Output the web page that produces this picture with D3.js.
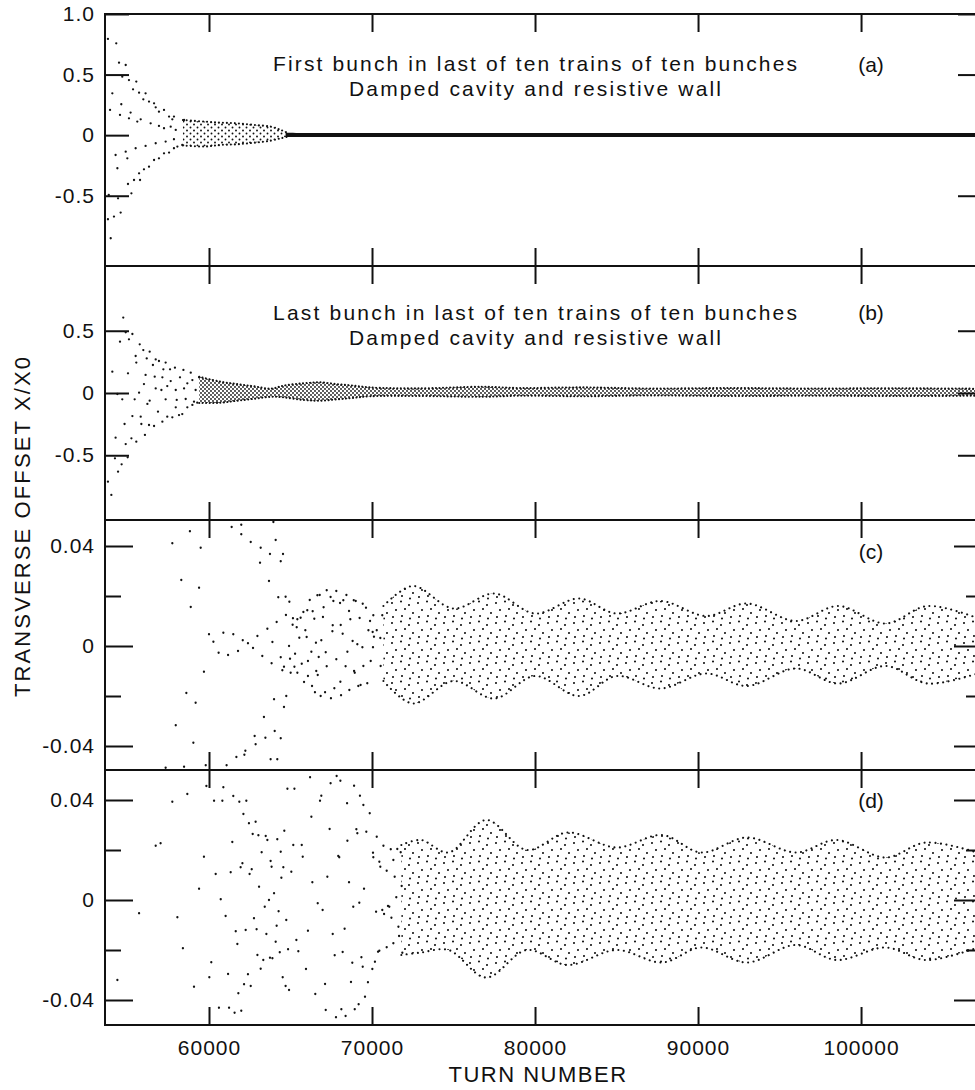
<!DOCTYPE html>
<html>
<head>
<meta charset="utf-8">
<script src="https://cdn.jsdelivr.net/npm/d3@7"></script>
<style>
  body { margin: 0; background: #fff; }
  text { font-family: "Liberation Sans", Arial, Helvetica, sans-serif; fill: #111; }
</style>
</head>
<body>
<div id="chart"></div>
<script>
// tick values
const turnTicks = [60000, 70000, 80000, 90000, 100000];
const ticksA = [1.0, 0.5, 0, -0.5];
const ticksB = [0.5, 0, -0.5];
const ticksCD = [0.04, 0, -0.04];
const minorCD = [0.02, -0.02];

// panel (a): separate dots [turn, x/x0]
const ptsA = [[53800,0.794],[54310,0.758],[54480,0.598],[54890,0.579],[54680,0.483],[55090,0.455],[55540,0.442],[55340,0.378],[55710,0.351],[56110,0.345],[55970,0.296],[56320,0.277],[56630,0.263],[56730,0.230],[56930,0.194],[57240,0.208],[57550,0.153],[57850,0.153],[57750,0.131],[58470,0.125],
  [54070,0.345],[53930,0.208],[54620,0.255],[54540,0.167],[55190,0.186],[55090,0.139],[55810,0.131],[55600,0.112],[56420,0.098],[56930,0.076],[57240,0.057],[57650,0.070],[57960,0.043],
  [54270,-0.164],[54890,-0.136],[54380,-0.273],[54990,-0.191],[55500,-0.108],[56110,-0.089],[56730,-0.067],[57340,-0.053],[57850,-0.034],
  [55030,-0.403],[55400,-0.370],[55710,-0.315],[55770,-0.370],[56010,-0.282],[56320,-0.260],[56630,-0.205],[56930,-0.191],[57240,-0.150],[57550,-0.144],[57850,-0.108],[58060,-0.094],[58360,-0.081],
  [55240,-0.480],[54420,-0.521],[53850,-0.494],[54170,-0.672],[54580,-0.639],[53800,-0.694],[53970,-0.851]];
// panel (a): dense dot region [turn, upper, lower]
const lensA = [[58400,0.125,-0.085],[59700,0.112,-0.094],[60700,0.103,-0.081],[61700,0.098,-0.075],[62800,0.084,-0.062],[63800,0.070,-0.045],[64400,0.043,-0.026],[64900,0.014,-0.010]];
const lineA = [[64700,0.020,-0.016],[66000,0.018,-0.016],[70000,0.017,-0.016],[80000,0.018,-0.016],[90000,0.017,-0.016],[100000,0.018,-0.016],[107600,0.017,-0.016]];

// panel (b)
const ptsB = [[54740,0.606],[54890,0.487],[54540,0.412],[55300,0.474],[55090,0.431],[55750,0.391],[55970,0.345],[56360,0.332],[55500,0.297],[56180,0.278],[55540,0.244],[56730,0.270],[56930,0.257],[57340,0.244],[56560,0.225],[57200,0.190],[57610,0.190],[57910,0.203],[58430,0.185],[58880,0.163],[59390,0.126],
  [54070,0.171],[55030,0.158],[56110,0.145],[56670,0.131],[57140,0.126],[58220,0.126],[57650,0.096],[58670,0.078],[58980,0.104],[56010,0.072],[56730,0.037],[57080,0.024],[57440,0.056],[57960,0.024],[58470,0.037],[59180,0.024],
  [54380,-0.008],[54680,-0.051],[55440,-0.051],[55710,0.003],[56360,-0.062],[57340,-0.051],[58020,-0.056],[58570,-0.048],[59080,-0.070],
  [54820,-0.249],[55300,-0.185],[55810,-0.190],[56220,-0.088],[55850,-0.249],[56320,-0.257],[56630,-0.265],[56870,-0.150],[57140,-0.230],[57440,-0.190],[57750,-0.195],[57960,-0.115],[58160,-0.177],[58360,-0.169],[58670,-0.115],[58980,-0.096],[59280,-0.078],
  [54270,-0.359],[54890,-0.410],[55240,-0.364],[55540,-0.391],[56070,-0.337],
  [54230,-0.525],[54640,-0.573],[54420,-0.632],[55010,-0.517],[53800,-0.712],[54010,-0.819]];
const bandB = [[59400,0.130,-0.080],[60700,0.091,-0.078],[61700,0.072,-0.062],[62800,0.053,-0.046],[63800,0.035,-0.030],[64600,0.060,-0.035],[65800,0.078,-0.056],[66800,0.086,-0.062],[67900,0.070,-0.050],[68800,0.060,-0.040],[69900,0.045,-0.026],[72800,0.037,-0.024],[76800,0.050,-0.030],[79000,0.040,-0.022],[83000,0.045,-0.026],[87000,0.036,-0.020],[92000,0.040,-0.024],[97000,0.036,-0.022],[102000,0.038,-0.024],[107600,0.034,-0.022]];

// panel (c)
const ptsC = [[57750,0.0411],[58830,0.0459],[59490,0.0393],[58300,0.0264],[59390,0.0233],[58880,0.0156],[59690,-0.0103],[58610,-0.0188],[59180,-0.0227],[57960,-0.0317],[59040,-0.0387],[57340,-0.0487],[58470,-0.0483],[59800,-0.0477],[61080,-0.0477],
  [61390,0.0476],[61980,0.0485],[61980,0.0447],[62560,0.0416],[63170,0.0393],[63740,0.0368],[63130,0.0333],[64090,0.0424],[64540,0.0368],[64400,0.0339],[63680,0.0260],[63950,0.0496],
  [64250,0.0195],[64700,0.0197],[64930,0.0177],[64720,0.0124],[64150,0.0096],[63580,0.0069],[62970,0.0040],[63890,0.0016],[64910,0.0],[63270,-0.0040],[63840,-0.0069],[64600,-0.0083],[64500,-0.0097],[65010,-0.0107],[65240,-0.0083],[65420,-0.0107],[64970,-0.0051],[65280,-0.0031],[65690,-0.0071],[65830,-0.0144],[66070,-0.0120],[66320,-0.0160],[66500,-0.0185],[66850,-0.0200],[67120,-0.0185],[67480,-0.0209],[67690,-0.0169],[68100,-0.0197],[68610,-0.0176],[69160,-0.0160],[69710,-0.0149],[69300,-0.0156],[68060,-0.0143],
  [60000,0.0047],[60270,0.0017],[60590,-0.0027],[60880,0.0053],[61170,-0.0036],[61490,0.0047],[61780,-0.0020],[62070,0.0023],[62390,0.0011],[62700,-0.0008],
  [64740,-0.0200],[64600,-0.0244],[63990,-0.0213],[63370,-0.0284],[64030,-0.0340],[63460,-0.0367],[64400,-0.0369],[62800,-0.0360],[62860,-0.0393],[62230,-0.0419],[62170,-0.0435],[61680,-0.0444],[63780,-0.0453],[64190,-0.0453],
  [65150,0.0111],[65130,0.0085],[65420,0.0107],[65620,0.0113],[65790,0.0136],[66030,0.0143],[66360,0.0139],[66180,0.0184],[66650,0.0203],[66790,0.0204],[67220,0.0223],[67810,0.0220],[67460,0.0196],[67630,0.0180],[68040,0.0172],[68240,0.0183],[68430,0.0204],[68880,0.0183],[69000,0.0180],[69430,0.0169],[69630,0.0153],[68590,0.0140],[68670,0.0107],[69240,0.0112],[69880,0.0100],[70080,0.0123],[70630,0.0123],
  [65380,0.0075],[65540,0.0033],[65910,0.0063],[65990,0.0036],[66460,0.0109],[66990,0.0116],[67030,0.0155],[67570,0.0059],[67590,0.0083],[68080,0.0084],[68200,0.0049],[66560,0.0013],[66890,0.0023],[67160,-0.0025],[66280,-0.0023],[66730,-0.0044],[66580,-0.0100],[66670,-0.0116],[67220,-0.0081],[67810,-0.0053],[68380,-0.0081],[68490,-0.0023],[68810,0.0020],[69100,0.0007],[69410,-0.0005],[68900,-0.0100],[68940,-0.0107],[69470,-0.0080],[69780,0.0063],[70040,0.0056],[70120,0.0037],[70290,0.0063],[70510,0.0032],[69920,-0.0060],[70060,-0.0005],[70530,-0.0080],[66070,-0.0060],[64400,-0.0045]];
const bandC = [[70700,0.016,-0.014],[72500,0.024,-0.023],[75000,0.015,-0.014],[77500,0.021,-0.021],[80000,0.013,-0.012],[82700,0.019,-0.020],[85000,0.013,-0.012],[87700,0.018,-0.017],[90500,0.012,-0.011],[93000,0.017,-0.016],[96000,0.010,-0.009],[98600,0.016,-0.015],[101500,0.009,-0.008],[104100,0.016,-0.015],[107600,0.010,-0.010]];

// panel (d)
const ptsD = [[54380,-0.0320],[55710,-0.0053],[56730,0.0217],[57030,0.0227],[57750,0.0393],[58060,-0.0069],[58400,-0.0193],[58670,0.0424],[59080,-0.0347],[59390,0.0045],[59690,0.0173],[59840,0.0456],[60020,-0.0309],[60140,-0.0249],[60310,0.0397],[60410,0.0104],[60610,-0.0431],[60720,0.0003],[60820,0.0397],[60880,0.0451],[61020,-0.0064],[61170,-0.0296],[61230,-0.0431],[61330,0.0111],[61430,0.0232],[61490,0.0416],[61570,-0.0451],[61640,-0.0125],[61740,-0.0176],[61800,-0.0373],[61860,0.0393],[61940,0.0131],[61980,-0.0443],[62050,0.0147],[62110,0.0344],[62150,-0.0337],[62250,-0.0120],[62290,0.0397],[62390,-0.0297],[62450,0.0307],[62490,0.0104],[62560,-0.0344],[62620,0.0123],[62680,0.0264],[62760,-0.0073],[62860,0.0313],[62920,-0.0117],[62970,-0.0220],[63030,0.0259],[63070,0.0053],[63170,-0.0275],[63230,0.0191],[63330,-0.0240],[63420,-0.0027],[63480,0.0256],[63520,-0.0136],[63580,0.0240],[63680,0.0000],[63740,-0.0231],[63780,0.0156],[63840,0.0133],[63890,-0.0233],[63990,0.0027],[64090,-0.0167],[64150,-0.0103],[64190,0.0243],[64270,-0.0045],[64340,-0.0209],[64400,0.0193],[64440,0.0089],[64520,-0.0309],[64560,0.0131],[64620,0.0277],[64700,-0.0344],[64740,-0.0080],[64810,0.0445],[64850,-0.0197],[64910,-0.0360],[65050,0.0113],[65170,0.0220],[65240,0.0445],[65360,-0.0160],[65480,-0.0205],[65690,0.0220],[65750,0.0173],[65950,-0.0276],[66070,-0.0123],[66200,0.0491],[66280,0.0333],[66340,0.0071],[66520,-0.0376],[66670,-0.0013],[66810,0.0397],[66890,0.0417],[66970,-0.0040],[67120,-0.0336],[67160,-0.0440],[67260,0.0093],[67400,0.0284],[67460,0.0467],[67590,-0.0136],[67710,-0.0221],[67790,-0.0469],[67830,0.0496],[67930,0.0176],[67990,0.0171],[68060,0.0477],[68120,-0.0437],[68200,-0.0208],[68320,-0.0115],[68380,-0.0464],[68470,0.0387],[68490,0.0237],[68590,0.0071],[68710,-0.0328],[68790,-0.0251],[68850,-0.0027],[68900,0.0457],[68940,-0.0437],[69040,0.0283],[69100,0.0267],[69180,-0.0417],[69220,-0.0011],[69260,0.0417],[69350,-0.0229],[69430,-0.0267],[69470,0.0380],[69510,0.0045],[69570,-0.0387],[69650,0.0273],[69750,-0.0329],[69860,0.0347],[70020,-0.0276],[70060,0.0189],[70080,0.0171],[70180,-0.0247],[70290,0.0253],[70250,-0.0047],[70370,-0.0207],[70450,0.0153],[70450,-0.0203],[70510,0.0133],[70630,-0.0040],[70700,0.0217],[70740,-0.0056],[70900,0.0117],[70900,-0.0189],[70980,-0.0024],[71060,-0.0027],[71150,0.0203],[71190,-0.0071],[71310,0.0160],[71310,-0.0173],[71390,0.0093],[71490,0.0011],[71550,0.0204],[71620,-0.0107],[71660,-0.0144],[71760,0.0191],[71820,0.0056],[71860,-0.0211]];
const bandD = [[71800,0.022,-0.022],[73000,0.024,-0.021],[74700,0.019,-0.020],[77000,0.032,-0.031],[79500,0.020,-0.020],[82000,0.027,-0.026],[85000,0.021,-0.020],[87800,0.026,-0.025],[90200,0.019,-0.019],[93000,0.025,-0.025],[96000,0.019,-0.018],[98500,0.024,-0.024],[101500,0.017,-0.019],[104000,0.023,-0.024],[107600,0.018,-0.018]];

const noteTop = ["First bunch in last of ten trains of ten bunches", "Last bunch in last of ten trains of ten bunches"];
const noteSub = "Damped cavity and resistive wall";
const panelTags = ["(a)", "(b)", "(c)", "(d)"];

var width = 975, height = 1090;
var left = 105, right = 982;
var ink = "#111";

var svg = d3.select("#chart").append("svg")
  .attr("width", width)
  .attr("height", height);

var defs = svg.append("defs");
// dot textures for the dense parts of the traces
function dotPattern(id, w, h, dots, r) {
  var p = defs.append("pattern").attr("id", id)
    .attr("patternUnits", "userSpaceOnUse")
    .attr("width", w).attr("height", h);
  dots.forEach(function(d) {
    p.append("circle").attr("cx", d[0]).attr("cy", d[1]).attr("r", r).attr("fill", ink);
  });
}
dotPattern("texA", 7, 6, [[1.5,1.5],[5,4.5]], 0.95);
dotPattern("texB", 4, 4, [[1,1],[3,3]], 0.9);
dotPattern("texCD", 26, 20, [[2,3],[11,1.5],[19,5],[6,10],[15,9],[23,13],[3,17],[12,16],[20,18.5]], 1.05);

var x = d3.scaleLinear().domain([53620, 107420]).range([left, right]);

var fmt1 = function(d) { return d === 0 ? "0" : (d < 0 ? "-" : "") + Math.abs(d).toFixed(1); };
var fmt2 = function(d) { return d === 0 ? "0" : (d < 0 ? "-" : "") + Math.abs(d).toFixed(2); };

var panels = [
  { top: 14,  bottom: 266,  domain: [-1.08, 1.0],   ticks: ticksA,  minor: [], len: 24, fmt: fmt1, pts: ptsA,
    bands: [{ d: lensA, fill: "url(#texA)", gap: 4 }, { d: lineA, fill: ink, gap: 0 }] },
  { top: 266, bottom: 520,  domain: [-1.02, 1.02],  ticks: ticksB,  minor: [], len: 24, fmt: fmt1, pts: ptsB,
    bands: [{ d: bandB, fill: "url(#texB)", gap: 3.5 }] },
  { top: 520, bottom: 770,  domain: [-0.0496, 0.0504], ticks: ticksCD, minor: minorCD, len: 28, fmt: fmt2, pts: ptsC,
    bands: [{ d: bandC, fill: "url(#texCD)", gap: 5.5 }] },
  { top: 770, bottom: 1025, domain: [-0.050, 0.052],   ticks: ticksCD, minor: minorCD, len: 28, fmt: fmt2, pts: ptsD,
    bands: [{ d: bandD, fill: "url(#texCD)", gap: 5.5 }] }
];

function styleAxis(g) {
  g.attr("font-size", 21).attr("font-family", null);
  g.select(".domain").remove();
  g.selectAll("line").attr("stroke", ink).attr("stroke-width", 2);
  g.selectAll("text").attr("fill", ink).style("letter-spacing", "1px");
}

panels.forEach(function(p, i) {
  var y = d3.scaleLinear().domain(p.domain).range([p.bottom, p.top]);

  svg.append("clipPath").attr("id", "clip" + i)
    .append("rect").attr("x", left).attr("y", p.top)
    .attr("width", right - left).attr("height", p.bottom - p.top);

  var g = svg.append("g").attr("clip-path", "url(#clip" + i + ")");

  p.bands.forEach(function(b) {
    var area = d3.area()
      .x(function(d) { return x(d[0]); })
      .y0(function(d) { return y(d[2]); })
      .y1(function(d) { return y(d[1]); })
      .curve(d3.curveCatmullRom);
    g.append("path").attr("d", area(b.d)).attr("fill", b.fill);
    if (b.gap > 0) {
      [1, 2].forEach(function(k) {
        var edge = d3.line()
          .x(function(d) { return x(d[0]); })
          .y(function(d) { return y(d[k]); })
          .curve(d3.curveCatmullRom);
        g.append("path").attr("d", edge(b.d))
          .attr("fill", "none").attr("stroke", ink)
          .attr("stroke-width", 2.1).attr("stroke-linecap", "round")
          .attr("stroke-dasharray", "0.01," + b.gap);
      });
    }
  });

  g.selectAll(".pt").data(p.pts).enter()
    .append("circle")
    .attr("cx", function(d) { return x(d[0]); })
    .attr("cy", function(d) { return y(d[1]); })
    .attr("r", 1.15)
    .attr("fill", ink);

  // frame
  svg.append("rect")
    .attr("x", left).attr("y", p.top)
    .attr("width", right - left).attr("height", p.bottom - p.top)
    .attr("fill", "none").attr("stroke", ink).attr("stroke-width", 2);

  // y ticks, left (labelled) and right
  svg.append("g").attr("transform", "translate(" + left + ",0)")
    .call(d3.axisLeft(y).tickValues(p.ticks).tickSize(-p.len).tickPadding(10).tickFormat(p.fmt))
    .call(styleAxis);
  svg.append("g").attr("transform", "translate(" + right + ",0)")
    .call(d3.axisRight(y).tickValues(p.ticks).tickSize(-p.len).tickFormat(""))
    .call(styleAxis);
  if (p.minor.length) {
    svg.append("g").attr("transform", "translate(" + left + ",0)")
      .call(d3.axisLeft(y).tickValues(p.minor).tickSize(-16).tickFormat(""))
      .call(styleAxis);
    svg.append("g").attr("transform", "translate(" + right + ",0)")
      .call(d3.axisRight(y).tickValues(p.minor).tickSize(-16).tickFormat(""))
      .call(styleAxis);
  }

  // x ticks on top and bottom edges
  svg.append("g").attr("transform", "translate(0," + p.top + ")")
    .call(d3.axisBottom(x).tickValues(turnTicks).tickSize(18).tickFormat(""))
    .call(styleAxis);
  svg.append("g").attr("transform", "translate(0," + p.bottom + ")")
    .call(d3.axisTop(x).tickValues(turnTicks).tickSize(18).tickFormat(""))
    .call(styleAxis);
});

// bottom tick labels
svg.append("g").attr("transform", "translate(0,1025)")
  .call(d3.axisBottom(x).tickValues(turnTicks).tickSize(0).tickPadding(15).tickFormat(d3.format("d")))
  .call(styleAxis);

// panel notes
[[71, 96], [320, 345]].forEach(function(r, i) {
  svg.append("text").attr("x", 535).attr("y", r[0]).attr("text-anchor", "middle")
    .attr("font-size", 21).attr("textLength", 524).attr("lengthAdjust", "spacing")
    .text(noteTop[i]);
  svg.append("text").attr("x", 535).attr("y", r[1]).attr("text-anchor", "middle")
    .attr("font-size", 21).attr("textLength", 372).attr("lengthAdjust", "spacing")
    .text(noteSub);
});
[72, 320, 559, 808].forEach(function(yy, i) {
  svg.append("text").attr("x", 871).attr("y", yy).attr("text-anchor", "middle")
    .attr("font-size", 21).text(panelTags[i]);
});

// axis titles
svg.append("text")
  .attr("transform", "translate(30,527) rotate(-90)")
  .attr("text-anchor", "middle").attr("font-size", 22)
  .attr("textLength", 340).attr("lengthAdjust", "spacing")
  .text("TRANSVERSE OFFSET X/X0");
svg.append("text")
  .attr("x", 538).attr("y", 1082).attr("text-anchor", "middle")
  .attr("font-size", 22).style("letter-spacing", "1.5px")
  .text("TURN NUMBER");
</script>
</body>
</html>
